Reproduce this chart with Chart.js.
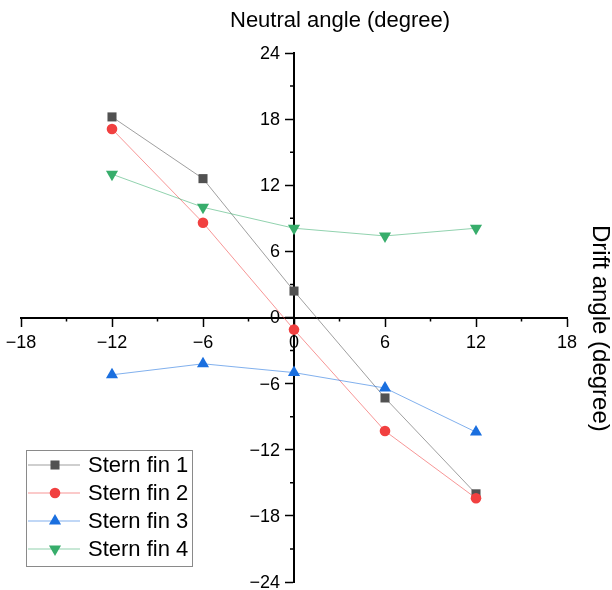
<!DOCTYPE html>
<html>
<head>
<meta charset="utf-8">
<script src="https://cdn.jsdelivr.net/npm/chart.js@4.4.0/dist/chart.umd.min.js"></script>
<style>
  html, body { margin:0; padding:0; background:#fff; }
  #wrap { position:relative; width:612px; height:590px; }
</style>
</head>
<body>
<div id="wrap"><canvas id="c" width="612" height="590"></canvas></div>
<script>
// drift angle (x) and neutral angle (y) per stern fin
const driftAngles = [-12, -6, 0, 6, 12];
const sternFin1   = [18.2, 12.6, 2.4, -7.3, -16.0];
const sternFin2   = [17.1, 8.6, -1.1, -10.3, -16.4];
const sternFin3   = [-5.2, -4.2, -5.0, -6.4, -10.4];
const sternFin4   = [13.0, 10.0, 8.1, 7.4, 8.1];
const seriesNames = ['Stern fin 1', 'Stern fin 2', 'Stern fin 3', 'Stern fin 4'];

const xTickValues = [-18, -12, -6, 0, 6, 12, 18];
const yTickValues = [-24, -18, -12, -6, 0, 6, 12, 18, 24];
const xMinorTicks = [-15, -9, -3, 3, 9, 15];
const yMinorTicks = [-21, -15, -9, -3, 3, 9, 15, 21];

const FONT = "'Liberation Sans', Arial, sans-serif";

const styles = [
  { marker:'#515151', line:'rgba(81,81,81,0.55)',   shape:'rect',     r:6.4, rot:0   },
  { marker:'#F14040', line:'rgba(241,64,64,0.55)',  shape:'circle',   r:5.3, rot:0   },
  { marker:'#1A6FDF', line:'rgba(26,111,223,0.55)', shape:'triangle', r:7,   rot:0   },
  { marker:'#37AD6B', line:'rgba(55,173,107,0.55)', shape:'triangle', r:7,   rot:180 },
];

const pts = ys => driftAngles.map((x, i) => ({ x, y: ys[i] }));
const allSeries = [sternFin1, sternFin2, sternFin3, sternFin4];

const datasets = allSeries.map((ys, i) => ({
  label: seriesNames[i],
  data: pts(ys),
  showLine: true,
  borderColor: styles[i].line,
  borderWidth: 1,
  backgroundColor: styles[i].marker,
  pointBackgroundColor: styles[i].marker,
  pointBorderWidth: 0,
  pointStyle: styles[i].shape,
  pointRadius: styles[i].r,
  pointRotation: styles[i].rot,
  order: 4 - i,
}));

const fmt = v => v < 0 ? '\u2212' + Math.abs(v) : String(v);

const decor = {
  id: 'decor',
  afterDraw(chart) {
    const { ctx, scales: { x, y } } = chart;
    const x0 = x.getPixelForValue(0), y0 = y.getPixelForValue(0);
    ctx.save();
    // minor ticks
    ctx.strokeStyle = '#000'; ctx.lineWidth = 1.5;
    ctx.beginPath();
    xMinorTicks.forEach(v => { const px = x.getPixelForValue(v); ctx.moveTo(px, y0); ctx.lineTo(px, y0 + 4); });
    yMinorTicks.forEach(v => { const py = y.getPixelForValue(v); ctx.moveTo(x0, py); ctx.lineTo(x0 - 4, py); });
    ctx.stroke();

    // tick labels
    ctx.fillStyle = '#000';
    ctx.font = `18px ${FONT}`;
    ctx.textAlign = 'center'; ctx.textBaseline = 'alphabetic';
    xTickValues.forEach(v => ctx.fillText(fmt(v), x.getPixelForValue(v), y0 + 30));
    ctx.textAlign = 'right'; ctx.textBaseline = 'middle';
    yTickValues.forEach(v => ctx.fillText(fmt(v), x0 - 14, y.getPixelForValue(v) + 1));

    // axis titles
    ctx.font = `22px ${FONT}`;
    ctx.textAlign = 'left'; ctx.textBaseline = 'alphabetic';
    ctx.fillText('Neutral angle (degree)', 230, 27);
    ctx.save();
    ctx.font = `24px ${FONT}`;
    ctx.translate(593, 225); ctx.rotate(Math.PI / 2);
    ctx.fillText('Drift angle (degree)', 0, 0);
    ctx.restore();

    // legend
    ctx.strokeStyle = '#8a8a8a'; ctx.lineWidth = 1;
    ctx.strokeRect(26.5, 450.5, 166, 116);
    chart.data.datasets.forEach((ds, i) => {
      const ry = 465 + i * 28;
      ctx.strokeStyle = ds.borderColor; ctx.lineWidth = 1;
      ctx.beginPath(); ctx.moveTo(28, ry); ctx.lineTo(80, ry); ctx.stroke();
      ctx.fillStyle = ds.pointBackgroundColor;
      Chart.helpers.drawPoint(ctx, { pointStyle: ds.pointStyle, radius: ds.pointRadius, rotation: ds.pointRotation, borderWidth: 0 }, 55, ry);
      ctx.fillStyle = '#000';
      ctx.font = `22px ${FONT}`;
      ctx.textAlign = 'left'; ctx.textBaseline = 'middle';
      ctx.fillText(ds.label, 88, ry + 1);
    });
    ctx.restore();
  }
};

new Chart(document.getElementById('c'), {
  type: 'scatter',
  data: { datasets },
  options: {
    responsive: false,
    animation: false,
    layout: { padding: { left: 21, right: 45, top: 53, bottom: 8 } },
    plugins: { legend: { display: false }, tooltip: { enabled: false } },
    scales: {
      x: {
        type: 'linear', min: -18, max: 18,
        position: { y: 0 },
        ticks: { stepSize: 6, display: false },
        grid: { drawOnChartArea: false, drawTicks: true, tickLength: 8, tickWidth: 1.5, tickColor: '#000' },
        border: { display: true, color: '#000', width: 2 },
      },
      y: {
        type: 'linear', min: -24, max: 24,
        position: { x: 0 },
        ticks: { stepSize: 6, display: false },
        grid: { drawOnChartArea: false, drawTicks: true, tickLength: 8, tickWidth: 1.5, tickColor: '#000' },
        border: { display: true, color: '#000', width: 2 },
      },
    },
  },
  plugins: [decor],
});
</script>
</body>
</html>
